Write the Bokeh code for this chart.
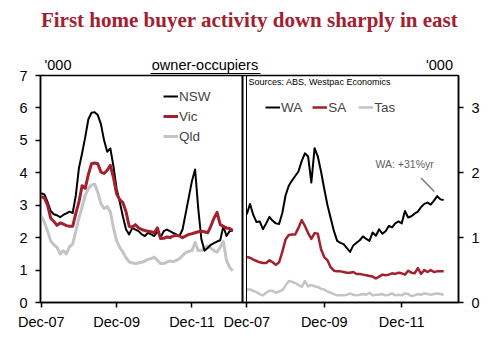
from bokeh.plotting import figure
from bokeh.models import (Range1d, LinearAxis, FixedTicker, Legend, LegendItem,
                          Label, Span, Title)
from bokeh.embed import file_html
from bokeh.resources import INLINE

# ---------------- data (monthly, Dec-07 .. Jan-13), '000 ----------------
months = list(range(62))
nsw = [3.37, 3.33, 3.10, 2.82, 2.72, 2.69, 2.63, 2.70, 2.75, 2.80, 2.76, 3.30, 4.15, 4.60, 5.10, 5.65,
       5.85, 5.87, 5.78, 5.50, 5.00, 4.65, 4.75, 4.20, 3.50, 3.10, 2.65, 2.25, 2.10, 2.30, 2.25, 2.20,
       2.10, 2.05, 2.15, 2.10, 2.05, 2.20, 2.00, 2.20, 2.25, 2.20, 2.15, 2.10, 2.05, 2.25, 2.75, 3.25,
       3.75, 4.10, 2.90, 1.95, 1.60, 1.68, 1.78, 1.83, 1.88, 1.92, 2.35, 2.05, 2.20, 2.22]
vic = [3.27, 3.22, 3.00, 2.60, 2.50, 2.38, 2.45, 2.42, 2.37, 2.35, 2.35, 2.75, 3.10, 3.60, 3.52, 3.95,
       4.28, 4.30, 4.28, 4.02, 3.98, 4.08, 4.23, 3.85, 3.35, 3.17, 3.08, 2.80, 2.35, 2.32, 2.40, 2.30,
       2.25, 2.22, 2.20, 2.18, 2.15, 2.30, 1.97, 1.98, 2.02, 2.00, 2.05, 2.07, 2.05, 2.00, 2.05, 2.10,
       2.12, 2.15, 2.18, 2.20, 2.18, 2.15, 2.35, 2.60, 2.78, 2.40, 2.35, 2.30, 2.28, 2.22]
qld = [2.66, 2.47, 2.20, 1.90, 1.78, 1.70, 1.50, 1.60, 1.50, 1.72, 1.80, 2.20, 2.60, 2.95, 3.30, 3.52,
       3.62, 3.65, 3.40, 3.05, 2.90, 2.96, 2.80, 2.30, 1.90, 1.70, 1.55, 1.38, 1.25, 1.22, 1.20, 1.22,
       1.24, 1.28, 1.33, 1.35, 1.40, 1.30, 1.20, 1.20, 1.25, 1.28, 1.26, 1.30, 1.35, 1.45, 1.54, 1.58,
       1.60, 1.85, 1.60, 1.60, 1.69, 1.75, 1.68, 1.60, 1.55, 1.70, 1.88, 1.30, 1.08, 0.98]
wa = [1.36, 1.52, 1.35, 1.24, 1.25, 1.13, 1.22, 1.32, 1.26, 1.22, 1.21, 1.38, 1.65, 1.80, 1.88, 1.95,
      2.02, 2.18, 2.30, 2.25, 1.85, 2.38, 2.25, 2.02, 1.75, 1.50, 1.30, 1.10, 0.95, 0.92, 0.90, 0.84,
      0.78, 0.88, 0.92, 0.96, 1.02, 0.98, 0.95, 1.08, 1.03, 1.13, 1.06, 1.10, 1.18, 1.16, 1.22, 1.25,
      1.22, 1.41, 1.31, 1.33, 1.37, 1.40, 1.47, 1.52, 1.54, 1.51, 1.57, 1.64, 1.59, 1.58]
sa = [0.70, 0.69, 0.66, 0.64, 0.62, 0.61, 0.61, 0.65, 0.62, 0.58, 0.62, 0.78, 0.97, 1.04, 1.05, 1.05,
      1.15, 1.27, 1.18, 1.07, 0.98, 1.07, 1.06, 0.82, 0.70, 0.65, 0.54, 0.49, 0.48, 0.48, 0.47, 0.46,
      0.46, 0.47, 0.44, 0.44, 0.43, 0.42, 0.41, 0.40, 0.37, 0.40, 0.43, 0.42, 0.43, 0.45, 0.44, 0.46,
      0.45, 0.43, 0.49, 0.46, 0.45, 0.53, 0.44, 0.50, 0.47, 0.50, 0.47, 0.48, 0.48, 0.48]
tas = [0.20, 0.20, 0.18, 0.16, 0.13, 0.11, 0.15, 0.18, 0.18, 0.15, 0.17, 0.19, 0.26, 0.33, 0.32, 0.30,
       0.27, 0.24, 0.33, 0.25, 0.27, 0.25, 0.24, 0.21, 0.20, 0.17, 0.15, 0.13, 0.11, 0.11, 0.11, 0.12,
       0.14, 0.12, 0.11, 0.12, 0.13, 0.12, 0.15, 0.11, 0.12, 0.12, 0.13, 0.11, 0.12, 0.14, 0.11, 0.12,
       0.11, 0.14, 0.13, 0.10, 0.11, 0.13, 0.12, 0.14, 0.13, 0.12, 0.13, 0.14, 0.13, 0.12]

x_tick_months = [0, 24, 48]
x_tick_labels = ["Dec-07", "Dec-09", "Dec-11"]
left_y_ticks = [0, 1, 2, 3, 4, 5, 6, 7]
right_y_ticks = [0, 1, 2, 3]
header_labels = ["'000", "owner-occupiers", "'000"]

# ---------------- layout geometry ----------------
W, H = 494, 345
FL, FR, FT, FB = 40, 458, 73, 302        # frame edges in page px
LP_R, RP_L = 242, 246                     # left panel right edge / right panel left edge
L_START, L_END = -0.25, 64.1              # left panel month span
R_START, R_END = -0.1, 65.6               # right panel month span

XS = L_START
XE = L_START + (L_END - L_START) * (FR - FL) / (LP_R - FL)
RXE = R_END
RXS = R_END - (R_END - R_START) * (FR - FL) / (FR - RP_L)
SCALE = (FR - FL) / (XE - XS)
LY_PER = (FB - FT) / 7.0


def px_x(px):
    return round(XS + (px - FL) / SCALE, 3)


def px_y(py):
    return 7 - (py - FT) / LY_PER


def r_to_main(m):
    return round(XS + (m - RXS) * (XE - XS) / (RXE - RXS), 3)


RED = "#A3202F"
GREY = "#C4C4C4"
FONT = "Liberation Sans"

p = figure(width=W, height=H, output_backend="svg", toolbar_location=None,
           x_range=Range1d(XS, XE), y_range=Range1d(0, 7),
           x_axis_type=None, y_axis_type=None,
           min_border_left=FL, min_border_right=W - FR,
           min_border_top=FT, min_border_bottom=H - FB)
p.extra_x_ranges = {"r": Range1d(RXS, RXE)}
p.extra_y_ranges = {"r": Range1d(0, 3.5)}
p.outline_line_color = "black"
p.outline_line_width = 1.5
p.background_fill_color = "white"
p.border_fill_color = "white"

ticks_all = [float(t) for t in x_tick_months] + [r_to_main(t) for t in x_tick_months]
labels_all = x_tick_labels + x_tick_labels
xaxis = LinearAxis(ticker=FixedTicker(ticks=ticks_all),
                   major_label_overrides={t: l for t, l in zip(ticks_all, labels_all)})
yl = LinearAxis(ticker=FixedTicker(ticks=left_y_ticks))
yr = LinearAxis(ticker=FixedTicker(ticks=right_y_ticks), y_range_name="r")
for ax in (xaxis, yl, yr):
    ax.major_tick_out = 5
    ax.major_tick_in = 0
    ax.minor_tick_out = 0
    ax.minor_tick_in = 0
    ax.major_label_text_font = FONT
    ax.major_label_text_font_size = "14.5px"
    ax.major_label_text_color = "black"
    ax.axis_line_color = "black"
    ax.axis_line_width = 1.5
    ax.major_tick_line_width = 1.5
xaxis.major_label_standoff = 6
yl.major_label_standoff = 8
yr.major_label_standoff = 8
p.add_layout(xaxis, "below")
p.add_layout(yl, "left")
p.add_layout(yr, "right")


def blank_axis(size):
    """An invisible axis used only to reserve vertical space above the frame."""
    t = px_x(300)
    return LinearAxis(ticker=FixedTicker(ticks=[t]), major_label_overrides={t: " "},
                      axis_line_color=None, major_tick_out=size, major_tick_in=0,
                      minor_tick_out=0, minor_tick_in=0,
                      major_tick_line_color=None, minor_tick_line_color=None,
                      major_label_standoff=0, major_label_text_font_size="0px")


# header strip above the frame: small gap, labels with underline, spacer, title
head_ticks = [px_x(57.5), px_x(204.5), px_x(439)]
head_axis = LinearAxis(ticker=FixedTicker(ticks=head_ticks),
                       major_label_overrides={t: l for t, l in zip(head_ticks, header_labels)},
                       bounds=(px_x(150), px_x(259.5)),
                       axis_line_color="black", axis_line_width=1,
                       major_tick_out=0, major_tick_in=0, minor_tick_out=0, minor_tick_in=0,
                       major_tick_line_color=None, minor_tick_line_color=None,
                       major_label_standoff=1, major_label_text_font=FONT,
                       major_label_text_font_size="14.5px", major_label_text_color="black")
p.add_layout(blank_axis(2), "above")
p.add_layout(head_axis, "above")
p.add_layout(blank_axis(17), "above")
p.add_layout(Title(text="First home buyer activity down sharply in east", align="center",
                   text_font="Liberation Serif", text_font_style="bold",
                   text_font_size="21px", text_color=RED), "above")

# panel separators
p.add_layout(Span(location=L_END, dimension="height", line_color="black", line_width=2))
p.add_layout(Span(location=R_START, dimension="height", line_color="black", line_width=1,
                  x_range_name="r"))

# left panel lines
r_qld = p.line(months, qld, line_color=GREY, line_width=3, line_join="round")
r_nsw = p.line(months, nsw, line_color="black", line_width=2, line_join="round")
r_vic = p.line(months, vic, line_color=RED, line_width=3, line_join="round")

# right panel lines
r_tas = p.line(months, tas, line_color=GREY, line_width=2.5, line_join="round",
               x_range_name="r", y_range_name="r")
r_sa = p.line(months, sa, line_color=RED, line_width=2.5, line_join="round",
              x_range_name="r", y_range_name="r")
r_wa = p.line(months, wa, line_color="black", line_width=2, line_join="round",
              x_range_name="r", y_range_name="r")

leg_style = dict(border_line_color=None, background_fill_alpha=0, padding=0, margin=0,
                 glyph_width=15, glyph_height=20, label_height=20, label_standoff=1,
                 label_text_font=FONT, label_text_font_size="13.5px")
leg_l = Legend(items=[LegendItem(label="NSW", renderers=[r_nsw]),
                      LegendItem(label="Vic", renderers=[r_vic]),
                      LegendItem(label="Qld", renderers=[r_qld])],
               location=(163 - FL, FB - 146), orientation="vertical", spacing=0, **leg_style)
leg_r = Legend(items=[LegendItem(label="WA", renderers=[r_wa]),
                      LegendItem(label="SA", renderers=[r_sa]),
                      LegendItem(label="Tas", renderers=[r_tas])],
               location=(265 - FL, FB - 117), orientation="horizontal", spacing=10, **leg_style)
p.add_layout(leg_l)
p.add_layout(leg_r)

# leader line and annotation for WA
p.segment(x0=[54.0], y0=[1.92], x1=[58.1], y1=[1.71], line_color="#7A7A7A", line_width=1.5,
          x_range_name="r", y_range_name="r")
p.add_layout(Label(x=48.9, y=2.13, x_range_name="r", y_range_name="r", text="WA: +31%yr",
                   text_align="center", text_baseline="middle", text_font=FONT,
                   text_font_size="10.5px", text_color="#5E6068"))

p.add_layout(Label(x=px_x(248), y=px_y(80), text="Sources: ABS, Westpac Economics",
                   text_align="left", text_baseline="middle", text_font=FONT,
                   text_font_size="9px", text_color="black"))

open("out.html", "w").write(file_html(p, INLINE))
